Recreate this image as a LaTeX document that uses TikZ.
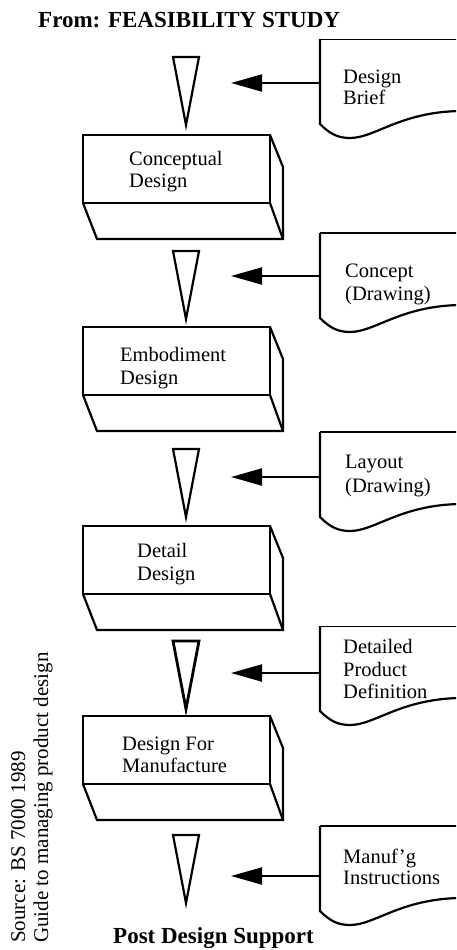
\documentclass[tikz,border=0pt]{standalone}
\usepackage{fontspec}
\setmainfont{Liberation Serif}
\usetikzlibrary{arrows.meta}

% stage block: front face with the underside and right side shown
\newcommand\stagebox[3]{%
  \begin{scope}[shift={(#1,#2)}]
    \draw[outline] (0,0) rectangle (187,68);
    \draw[outline] (187,0) -- (200,32) -- (200,104) -- (14,104) -- (0,68);
    \draw[outline] (187,68) -- (200,104);
    \coordinate (#3) at (0,0);
  \end{scope}}

% narrowing funnel between stages
\newcommand\funnel[3]{%
  \draw[outline,line width=#3] (173,#1) -- (199,#1) -- (186,#1+68) -- cycle;
  \coordinate (#2) at (186,#1);}

% input document sheet with a wavy lower edge
\newcommand\docsheet[3]{%
  \begin{scope}[shift={(320,#1)}]
    \draw[#3] (0,0) -- (140,0);
    \draw[outline] (0,0) -- (0,85)
      .. controls (10,95) and (18,99) .. (30,99)
      .. controls (55,99) and (80,73) .. (140,72);
    \coordinate (#2) at (0,0);
  \end{scope}}

\begin{document}
\begin{tikzpicture}[x=1pt,y=-1pt,
  outline/.style={line width=2.2pt,line join=miter},
  topedge/.style={line width=2.2pt},
  faintedge/.style={line width=0.9pt},
  feed/.style={line width=2pt,-{Triangle[length=31pt,width=17pt]}},
  body/.style={font=\fontsize{20.5}{24}\selectfont,anchor=base west,inner sep=0pt},
  heading/.style={font=\bfseries\fontsize{23}{26}\selectfont,anchor=base west,inner sep=0pt},
  source/.style={font=\fontsize{21}{24}\selectfont,anchor=base west,inner sep=0pt,rotate=90}]
\useasboundingbox (0,0) rectangle (456,950);
\clip (0,0) rectangle (456,950);

% headings
\node[heading] (from) at (38,28) {From: FEASIBILITY STUDY};
\node[heading] (post) at (113,943) {Post Design Support};

% source note, set vertically
\node[source] (src1) at (25,943) {Source: BS 7000 1989};
\node[source] (src2) at (48,943) {Guide to managing product design};

% funnels
\funnel{57}{f1}{2.2pt}
\funnel{251}{f2}{2.2pt}
\funnel{449}{f3}{2.2pt}
\funnel{641}{f4}{2.8pt}
\funnel{835}{f5}{2.2pt}

% stage blocks
\stagebox{83}{135}{b1}
\stagebox{83}{327}{b2}
\stagebox{83}{526}{b3}
\stagebox{83}{716}{b4}

\node[body] (b1a) at (129,165) {Conceptual};
\node[body] (b1b) at (129,187) {Design};
\node[body] (b2a) at (120,361) {Embodiment};
\node[body] (b2b) at (120,384) {Design};
\node[body] (b3a) at (137,557) {Detail};
\node[body] (b3b) at (137,580) {Design};
\node[body] (b4a) at (122,750) {Design For};
\node[body] (b4b) at (122,772) {Manufacture};

% input documents
\docsheet{39}{d1}{faintedge}
\docsheet{233}{d2}{topedge}
\docsheet{432}{d3}{topedge}
\docsheet{626}{d4}{faintedge}
\docsheet{826}{d5}{topedge}

\node[body] (d1a) at (343,83) {Design};
\node[body] (d1b) at (343,104) {Brief};
\node[body] (d2a) at (345,277) {Concept};
\node[body] (d2b) at (345,300) {(Drawing)};
\node[body] (d3a) at (345,468) {Layout};
\node[body] (d3b) at (345,492) {(Drawing)};
\node[body] (d4a) at (343,653) {Detailed};
\node[body] (d4b) at (343,676) {Product};
\node[body] (d4c) at (343,698) {Definition};
\node[body] (d5a) at (343,863) {Manuf'g};
\node[body] (d5b) at (343,884) {Instructions};

% feed arrows from each document towards its funnel
\coordinate (s1) at (320,83);   \coordinate (t1) at (231,83);
\coordinate (s2) at (320,276);  \coordinate (t2) at (231,276);
\coordinate (s3) at (320,477);  \coordinate (t3) at (231,477);
\coordinate (s4) at (320,673);  \coordinate (t4) at (231,673);
\coordinate (s5) at (320,876);  \coordinate (t5) at (231,876);
\foreach \i in {1,...,5} \draw[feed] (s\i) -- (t\i);
\end{tikzpicture}
\end{document}
